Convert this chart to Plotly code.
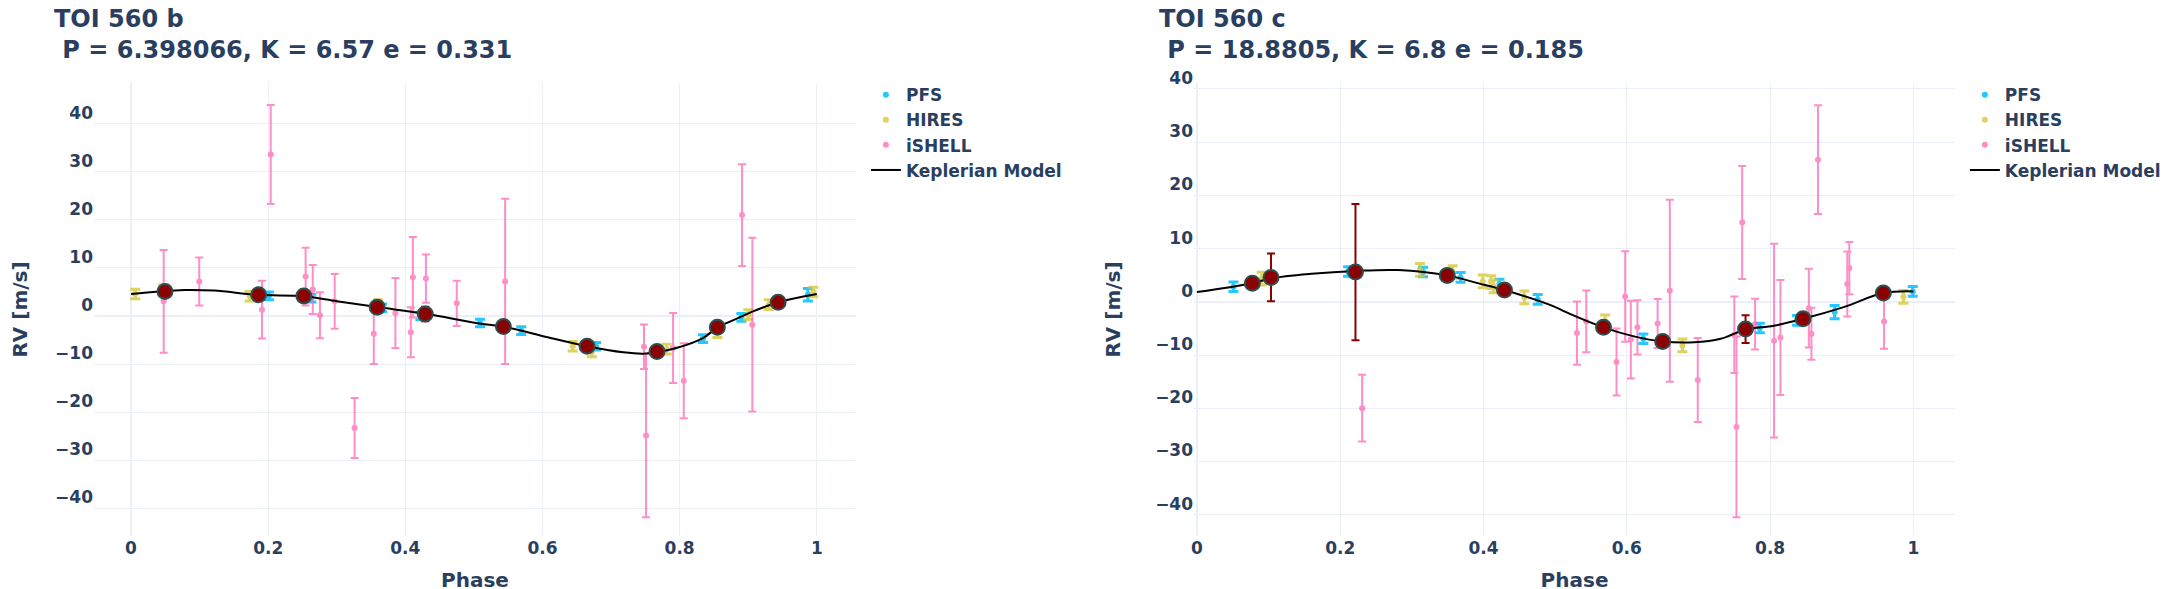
import plotly.graph_objects as go
from plotly.subplots import make_subplots

# ---------------- TOI 560 b ----------------
b_pfs_phase = [0.201, 0.263, 0.366, 0.422, 0.509, 0.569, 0.678, 0.834, 0.89, 0.987]
b_pfs_rv = [4.2, 3.7, 1.67, 0.0, -1.46, -3.06, -6.3, -4.7, -0.27, 4.44]
b_pfs_err = [0.8, 0.8, 0.8, 0.8, 0.8, 0.8, 0.8, 0.8, 0.8, 1.3]

b_hires_phase = [0.006, 0.047, 0.173, 0.36, 0.644, 0.672, 0.781, 0.855, 0.9, 0.93, 0.995]
b_hires_rv = [4.58, 5.5, 4.1, 2.4, -6.3, -7.5, -6.9, -3.5, 0.28, 2.36, 5.0]
b_hires_err = [1.0, 1.0, 1.0, 1.0, 1.0, 1.0, 1.0, 1.0, 1.0, 1.0, 1.0]

b_ishell_phase = [0.0476, 0.0995, 0.191, 0.2037, 0.2546, 0.265, 0.2755, 0.297, 0.326, 0.354, 0.3855,
                  0.408, 0.411, 0.43, 0.475, 0.5455, 0.748, 0.751, 0.7904, 0.806, 0.891, 0.906]
b_ishell_rv = [3.06, 7.2, 1.32, 33.6, 8.2, 5.49, 0.14, 3.06, -23.3, -3.68, 0.62,
               -3.4, 8.06, 7.78, 2.64, 7.2, -6.4, -24.9, -6.67, -13.5, 21.0, -1.8]
b_ishell_err = [10.7, 5.0, 6.0, 10.3, 6.0, 5.1, 4.8, 5.7, 6.25, 6.3, 7.3,
                5.2, 8.4, 5.0, 4.7, 17.2, 4.65, 17.0, 7.3, 7.8, 10.6, 18.1]

b_model_phase = [0, 0.04, 0.078, 0.121, 0.186, 0.252, 0.30, 0.359, 0.43, 0.505, 0.543, 0.601,
                 0.665, 0.718, 0.747, 0.767, 0.795, 0.834, 0.855, 0.88, 0.907, 0.944, 0.97, 1.0]
b_model_rv = [4.58, 5.1, 5.4, 5.28, 4.4, 4.1, 3.06, 1.85, 0.45, -1.5, -2.2, -4.2,
              -6.3, -7.57, -7.85, -7.5, -6.67, -4.6, -2.4, -0.77, 0.97, 2.85, 3.75, 4.58]

b_bin_phase = [0.0495, 0.186, 0.252, 0.359, 0.429, 0.543, 0.665, 0.767, 0.855, 0.9436]
b_bin_rv = [5.1, 4.4, 4.17, 1.8, 0.42, -2.2, -6.3, -7.4, -2.36, 2.85]
b_bin_err = [1.0, 1.0, 1.0, 1.0, 1.5, 1.0, 1.0, 1.0, 1.0, 1.0]

# ---------------- TOI 560 c ----------------
c_pfs_phase = [0.051, 0.211, 0.3155, 0.368, 0.4222, 0.4756, 0.623, 0.7856, 0.8376, 0.89, 0.999]
c_pfs_rv = [2.82, 5.7, 5.58, 4.58, 3.33, 0.45, -6.95, -4.94, -3.5, -1.94, 1.95]
c_pfs_err = [0.9, 0.9, 0.9, 0.9, 0.9, 0.9, 0.9, 0.9, 0.9, 1.25, 0.9]

c_hires_phase = [0.0905, 0.3113, 0.357, 0.399, 0.4107, 0.414, 0.457, 0.5698, 0.6775, 0.986]
c_hires_rv = [4.33, 6.0, 5.58, 3.83, 3.7, 2.9, 0.82, -3.7, -8.2, 0.94]
c_hires_err = [1.2, 1.2, 1.2, 1.2, 1.2, 1.2, 1.2, 1.2, 1.2, 1.2]

c_ishell_phase = [0.2306, 0.5304, 0.5434, 0.5856, 0.5977, 0.6056, 0.6148, 0.643, 0.660, 0.699, 0.75,
                  0.753, 0.761, 0.779, 0.8055, 0.8144, 0.854, 0.8576, 0.8668, 0.9077, 0.9105, 0.959]
c_ishell_rv = [-20.0, -5.88, -3.7, -11.3, 1.0, -7.1, -4.8, -4.1, 2.07, -14.7, -6.2,
               -23.5, 14.9, -4.2, -7.3, -6.7, -1.2, -6.0, 26.7, 3.33, 6.33, -3.7]
c_ishell_err = [6.27, 5.95, 5.8, 6.3, 8.5, 7.3, 5.1, 4.6, 17.1, 7.9, 7.2,
                17.0, 10.6, 4.76, 18.2, 10.8, 7.4, 4.9, 10.2, 6.1, 4.9, 5.1]

c_model_phase = [0, 0.0774, 0.1034, 0.16, 0.2213, 0.2807, 0.3494, 0.392, 0.4292, 0.4988, 0.5127,
                 0.5675, 0.61, 0.65, 0.694, 0.731, 0.766, 0.805, 0.846, 0.9026, 0.958, 1.0]
c_model_rv = [1.82, 3.5, 4.4, 5.26, 5.8, 5.96, 4.96, 3.5, 2.2, -0.9, -1.8,
              -4.8, -6.5, -7.45, -7.6, -6.95, -5.2, -4.5, -3.2, -1.0, 1.63, 1.95]

c_bin_phase = [0.0774, 0.1034, 0.2213, 0.3494, 0.4292, 0.5675, 0.650, 0.7657, 0.846, 0.958]
c_bin_rv = [3.5, 4.58, 5.58, 4.96, 2.2, -4.8, -7.45, -5.13, -3.2, 1.63]
c_bin_err = [1.0, 4.5, 12.8, 1.0, 1.0, 1.0, 1.0, 2.6, 1.0, 1.0]

titles = ["TOI 560 b<br> P = 6.398066, K = 6.57 e = 0.331",
          "TOI 560 c<br> P = 18.8805, K = 6.8 e = 0.185"]

FONT = "DejaVu Sans"
TXT = "#2a3f5f"
PFS_C = "deepskyblue"
HIRES_C = "rgb(214,200,60)"
ISHELL_C = "hotpink"

fig = make_subplots(rows=1, cols=2, horizontal_spacing=0.18)


def add_panel(col, legend, pfs, hires, ishell, model, binned):
    fig.add_trace(go.Scatter(x=pfs[0], y=pfs[1], mode="markers", name="PFS", legend=legend,
                             marker=dict(color=PFS_C, size=6), opacity=0.85,
                             error_y=dict(type="data", array=pfs[2], color=PFS_C,
                                          thickness=3, width=5)),
                  row=1, col=col)
    fig.add_trace(go.Scatter(x=hires[0], y=hires[1], mode="markers", name="HIRES", legend=legend,
                             marker=dict(color=HIRES_C, size=6), opacity=0.8,
                             error_y=dict(type="data", array=hires[2], color=HIRES_C,
                                          thickness=3, width=5)),
                  row=1, col=col)
    fig.add_trace(go.Scatter(x=ishell[0], y=ishell[1], mode="markers", name="iSHELL", legend=legend,
                             marker=dict(color=ISHELL_C, size=6), opacity=0.75,
                             error_y=dict(type="data", array=ishell[2], color=ISHELL_C,
                                          thickness=2, width=4)),
                  row=1, col=col)
    fig.add_trace(go.Scatter(x=model[0], y=model[1], mode="lines", name="Keplerian Model",
                             legend=legend, line=dict(color="black", width=2, shape="spline")),
                  row=1, col=col)
    fig.add_trace(go.Scatter(x=binned[0], y=binned[1], mode="markers", showlegend=False,
                             marker=dict(color="darkred", size=15,
                                         line=dict(color="darkslategray", width=2)),
                             error_y=dict(type="data", array=binned[2], color="darkred",
                                          thickness=2, width=4)),
                  row=1, col=col)


add_panel(1, "legend",
          (b_pfs_phase, b_pfs_rv, b_pfs_err),
          (b_hires_phase, b_hires_rv, b_hires_err),
          (b_ishell_phase, b_ishell_rv, b_ishell_err),
          (b_model_phase, b_model_rv),
          (b_bin_phase, b_bin_rv, b_bin_err))
add_panel(2, "legend2",
          (c_pfs_phase, c_pfs_rv, c_pfs_err),
          (c_hires_phase, c_hires_rv, c_hires_err),
          (c_ishell_phase, c_ishell_rv, c_ishell_err),
          (c_model_phase, c_model_rv),
          (c_bin_phase, c_bin_rv, c_bin_err))

tick_font = dict(family=FONT, size=17, color=TXT, weight="bold")
title_font = dict(family=FONT, size=20, color=TXT, weight="bold")

fig.update_xaxes(title_text="Phase", title_font=title_font, tickfont=tick_font,
                 tickvals=[0, 0.2, 0.4, 0.6, 0.8, 1], automargin=False)
fig.update_yaxes(title_text="RV [m/s]", title_font=title_font, title_standoff=29,
                 tickfont=tick_font, dtick=10, ticklabelshift=-11, automargin=False)
fig.update_xaxes(range=[-0.054, 1.057], row=1, col=1)
fig.update_xaxes(range=[-0.004, 1.058], row=1, col=2)
fig.update_yaxes(range=[-45.8, 48.5], row=1, col=1)
fig.update_yaxes(range=[-44.0, 41.1], row=1, col=2)

leg_font = dict(family=FONT, size=17, color=TXT, weight="bold")
fig.update_layout(
    template="plotly_white",
    width=2170, height=589,
    margin=dict(l=86, r=218, t=75, b=61),
    font=dict(family=FONT, color=TXT, weight="bold"),
    xaxis=dict(domain=[0, 0.4094]),
    xaxis2=dict(domain=[0.5911, 1]),
    legend=dict(x=0.4148, y=1.013, xanchor="left", yanchor="top", font=leg_font),
    legend2=dict(x=1.0053, y=1.013, xanchor="left", yanchor="top", font=leg_font),
)

for txt, xp in zip(titles, [-0.0224, 0.5712]):
    fig.add_annotation(text=txt, xref="paper", yref="paper", x=xp, y=1.108,
                       xanchor="left", yanchor="middle", align="left", showarrow=False,
                       font=dict(family=FONT, size=24, color=TXT, weight="bold"))

fig.write_html("out.html")
